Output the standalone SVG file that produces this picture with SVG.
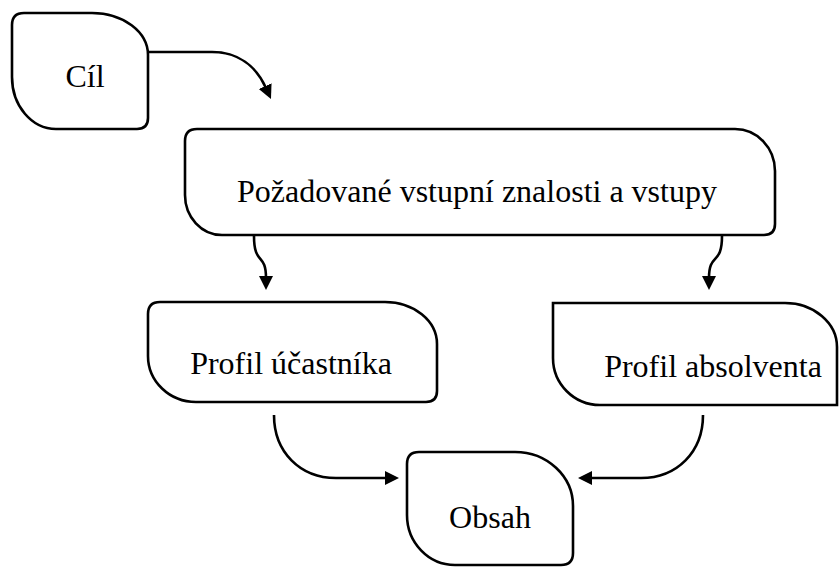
<svg xmlns="http://www.w3.org/2000/svg" width="839" height="567" viewBox="0 0 839 567">
<style>
.n{fill:#fff;stroke:#000;stroke-width:2.6}
.t{font-family:'Liberation Serif','Tinos','Times New Roman','DejaVu Serif',serif;font-size:32px;fill:#000;text-anchor:middle}
.c{fill:none;stroke:#000;stroke-width:2.6}
</style>
<defs>
<marker id="a" markerUnits="userSpaceOnUse" markerWidth="16" markerHeight="16" refX="2" refY="7" orient="auto">
<path d="M0,0 L14,7 L0,14 z" fill="#000"/>
</marker>
</defs>
<rect width="839" height="567" fill="#fff"/>
<g id="cil">
<path class="n" d="M24,13 H92 A56,42 0 0 1 148,55 V118 Q148,129 137,129 H56 A44,52 0 0 1 12,77 V25 Q12,13 24,13 Z"/>
<text class="t" x="85" y="87">Cíl</text>
</g>
<g id="pozadovane">
<path class="n" d="M197,129 H735 A40,42 0 0 1 775,171 V224 Q775,235 764,235 H222 A37,40 0 0 1 185,195 V141 Q185,129 197,129 Z"/>
<text class="t" x="477" y="202">Požadované vstupní znalosti a vstupy</text>
</g>
<g id="ucastnik">
<path class="n" d="M160,302 H385 A52,42 0 0 1 437,344 V391 Q437,402 426,402 H196 A48,46 0 0 1 148,356 V314 Q148,302 160,302 Z"/>
<text class="t" x="291" y="374">Profil účastníka</text>
</g>
<g id="absolvent">
<path class="n" d="M553,303 H785 A52,44 0 0 1 837,347 V405 H600 A47,47 0 0 1 553,358 Z"/>
<text class="t" x="713" y="377">Profil absolventa</text>
</g>
<g id="obsah">
<path class="n" d="M419,452 H515 A58,54 0 0 1 573,506 V553 Q573,565 561,565 H455 A48,50 0 0 1 407,515 V464 Q407,452 419,452 Z"/>
<text class="t" x="490" y="528">Obsah</text>
</g>
<g id="connectors">
<path class="c" d="M149,52 H212 C238,52 256,66 266,88" marker-end="url(#a)"/>
<path class="c" d="M254,236 C254,266 266,252 266,278" marker-end="url(#a)"/>
<path class="c" d="M722,236 C722,266 709,252 709,278" marker-end="url(#a)"/>
<path class="c" d="M274,415 C274,452 300,478 336,478 H387" marker-end="url(#a)"/>
<path class="c" d="M703,415 C703,452 677,478 641,478 H590" marker-end="url(#a)"/>
</g>
</svg>
